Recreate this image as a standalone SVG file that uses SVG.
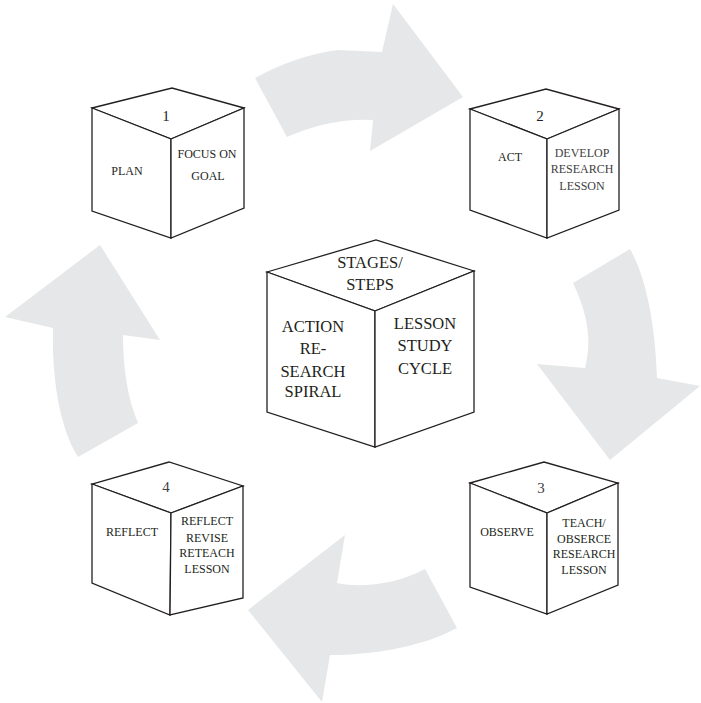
<svg xmlns="http://www.w3.org/2000/svg" width="701" height="703" viewBox="0 0 701 703">
<style>
.arrow{fill:#E6E7E8;stroke:none}
.cube path{fill:#fff;stroke:#231F20;stroke-width:1.3;stroke-linejoin:miter}
text{font-family:"Liberation Serif","Times New Roman",serif;fill:#231F20;text-anchor:middle}
.s{font-size:12px}
.n{font-size:15px}
.g{fill:#414042}
.b{font-size:16.5px}
</style>
<rect width="701" height="703" fill="#fff"/>
<g id="connectors">
<path class="arrow" d="M255,78 Q295,56 337,50 L382,52 L393,4 L463,97 L370,151 L373,120 Q330,118 287,137 Z"/>
<path class="arrow" d="M573,283 L630,249 C645,275 655,320 657,378 L700,386 L610,460 L537,364 L585,368 C592,340 588,315 573,283 Z"/>
<path class="arrow" d="M425,569 L457,628 C420,648 370,655 330,655 L322,702 L248,610 L345,535 L337,583 C360,588 395,585 425,569 Z"/>
<path class="arrow" d="M78,457 L138,423 C128,400 123,370 123,335 L160,340 L100,245 L5,317 L53,328 C52,360 55,420 78,457 Z"/>
</g>
<g id="cube1" class="cube">
<path d="M92,108 L172,88 L244,108 L171,139 Z"/>
<path d="M92,108 L171,139 L171,238 L92,211 Z"/>
<path d="M171,139 L244,108 L244,208 L171,238 Z"/>
<text class="n" x="166" y="121">1</text>
<text class="s" x="127" y="175">PLAN</text>
<text class="s" x="207" y="158">FOCUS ON</text>
<text class="s" x="208" y="180">GOAL</text>
</g>
<g id="cube2" class="cube">
<path d="M470,109 L546,89 L619,109 L547,139 Z"/>
<path d="M470,109 L547,139 L547,238 L470,210 Z"/>
<path d="M547,139 L619,109 L619,210 L547,238 Z"/>
<text class="n" x="540" y="121">2</text>
<text class="s" x="510" y="161">ACT</text>
<text class="s g" x="582" y="157">DEVELOP</text>
<text class="s g" x="582" y="173">RESEARCH</text>
<text class="s g" x="582" y="190">LESSON</text>
</g>
<g id="center" class="cube">
<path d="M267,272 L376,240 L474,271 L375,311 Z"/>
<path d="M267,272 L375,311 L375,447 L267,412 Z"/>
<path d="M375,311 L474,271 L474,412 L375,447 Z"/>
<text class="b" x="370" y="268">STAGES/</text>
<text class="b" x="370" y="290">STEPS</text>
<text class="b" x="313" y="332">ACTION</text>
<text class="b" x="313" y="354">RE-</text>
<text class="b" x="313" y="377">SEARCH</text>
<text class="b" x="313" y="397">SPIRAL</text>
<text class="b" x="425" y="329">LESSON</text>
<text class="b" x="425" y="351">STUDY</text>
<text class="b" x="425" y="374">CYCLE</text>
</g>
<g id="cube3" class="cube">
<path d="M470,483 L544,462 L618,483 L547,513 Z"/>
<path d="M470,483 L547,513 L547,614 L470,587 Z"/>
<path d="M547,513 L618,483 L618,585 L547,614 Z"/>
<text class="n g" x="541" y="493">3</text>
<text class="s" x="507" y="536">OBSERVE</text>
<text class="s" x="584" y="527">TEACH/</text>
<text class="s" x="584" y="543">OBSERCE</text>
<text class="s" x="584" y="558">RESEARCH</text>
<text class="s" x="584" y="574">LESSON</text>
</g>
<g id="cube4" class="cube">
<path d="M92,484 L169,462 L243,486 L171,513 Z"/>
<path d="M92,484 L171,513 L170,615 L92,583 Z"/>
<path d="M171,513 L243,486 L243,598 L170,615 Z"/>
<text class="n g" x="166" y="492">4</text>
<text class="s" x="132" y="536">REFLECT</text>
<text class="s" x="207" y="525">REFLECT</text>
<text class="s" x="207" y="542">REVISE</text>
<text class="s" x="207" y="557">RETEACH</text>
<text class="s" x="207" y="573">LESSON</text>
</g>
</svg>
